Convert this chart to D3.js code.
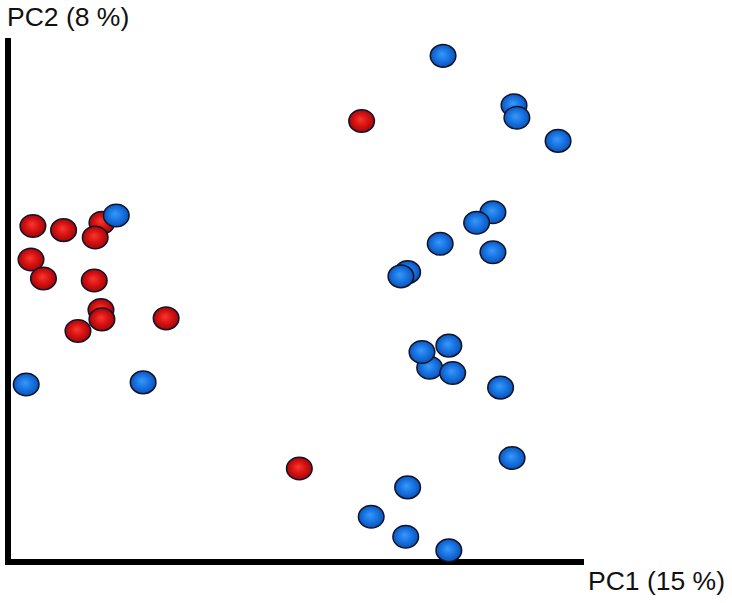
<!DOCTYPE html>
<html>
<head>
<meta charset="utf-8">
<script src="https://cdn.jsdelivr.net/npm/d3@7"></script>
<style>
  html, body { margin: 0; padding: 0; background: #fff; }
  svg { display: block; }
</style>
</head>
<body>
<div id="chart"></div>
<script>
// PCA scores, listed in drawing order (points further back first)
const pc1 = [
  0.154, 0.228, 0.231, 0.274, 0.206, 0.189, 0.151, 0.206, 0.117, 0.110,
  0.069, -0.274, -0.242, -0.202, -0.187, -0.209, -0.276, -0.263, -0.210,
  -0.203, -0.202, -0.227, -0.135,
  0.140, 0.132, 0.160, 0.164, 0.214, -0.281, -0.159,
  0.004, 0.226, 0.117, 0.079, 0.115, 0.160
];
const pc2 = [
  0.233, 0.186, 0.174, 0.152, 0.084, 0.074, 0.054, 0.046, 0.027, 0.023,
  0.171, 0.071, 0.067, 0.074, 0.081, 0.060, 0.039, 0.021, 0.019,
  -0.009, -0.018, -0.029, -0.017,
  -0.064, -0.049, -0.043, -0.069, -0.083, -0.080, -0.078,
  -0.160, -0.150, -0.178, -0.206, -0.225, -0.238
];
const group = [
  "B", "B", "B", "B", "B", "B", "B", "B", "B", "B",
  "A", "A", "A", "A", "B", "A", "A", "A", "A",
  "A", "A", "A", "A",
  "B", "B", "B", "B", "B", "B", "B",
  "A", "B", "B", "B", "B", "B"
];
const groups = ["A", "B"];
const axisTitles = ["PC1 (15 %)", "PC2 (8 %)"];

function drawChart() {
  const width = 732, height = 603;
  const plotLeft = 8, plotRight = 583, plotTop = 38, plotBottom = 563;

  const points = pc1.map((d, i) => ({ x: d, y: pc2[i], g: group[i] }));

  const x = d3.scaleLinear().domain([-0.3, 0.3]).range([plotLeft, plotRight]);
  const y = d3.scaleLinear().domain([-0.25, 0.25]).range([plotBottom, plotTop]);
  const color = d3.scaleOrdinal().domain(groups).range(["red", "blue"]);

  const svg = d3.select("#chart")
    .append("svg")
    .attr("width", width)
    .attr("height", height);

  // shaded ball look
  const defs = svg.append("defs");
  const shades = {
    red: ["#f43a30", "#dc1414", "#b00a0a", "#6e0000"],
    blue: ["#3a98f6", "#1a78e6", "#0f5cc4", "#0a3b86"]
  };
  Object.keys(shades).forEach((k) => {
    const grad = defs.append("radialGradient")
      .attr("id", "grad-" + k)
      .attr("cx", "50%").attr("cy", "50%").attr("r", "55%")
      .attr("fx", "45%").attr("fy", "42%");
    [0, 0.45, 0.8, 1].forEach((o, i) => {
      grad.append("stop").attr("offset", o).attr("stop-color", shades[k][i]);
    });
  });

  // axes: two thick black lines
  svg.append("line")
    .attr("x1", plotLeft).attr("x2", plotLeft)
    .attr("y1", plotTop).attr("y2", plotBottom + 2)
    .attr("stroke", "#000").attr("stroke-width", 6);
  svg.append("line")
    .attr("x1", plotLeft - 3).attr("x2", plotRight + 1)
    .attr("y1", plotBottom - 1).attr("y2", plotBottom - 1)
    .attr("stroke", "#000").attr("stroke-width", 6);

  svg.selectAll("ellipse")
    .data(points)
    .enter()
    .append("ellipse")
    .attr("cx", (d) => x(d.x))
    .attr("cy", (d) => y(d.y))
    .attr("rx", 12.8)
    .attr("ry", 11.3)
    .attr("fill", (d) => "url(#grad-" + color(d.g) + ")")
    .attr("stroke", "#10142a")
    .attr("stroke-width", 1.5);

  svg.append("text")
    .attr("x", 7)
    .attr("y", 26)
    .style("font-family", "'Liberation Sans', Arial, sans-serif")
    .style("font-size", "26.5px")
    .attr("fill", "#111")
    .text(axisTitles[1]);

  svg.append("text")
    .attr("x", 588)
    .attr("y", 590)
    .style("font-family", "'Liberation Sans', Arial, sans-serif")
    .style("font-size", "26.5px")
    .attr("fill", "#111")
    .text(axisTitles[0]);
}

drawChart();
</script>
</body>
</html>
